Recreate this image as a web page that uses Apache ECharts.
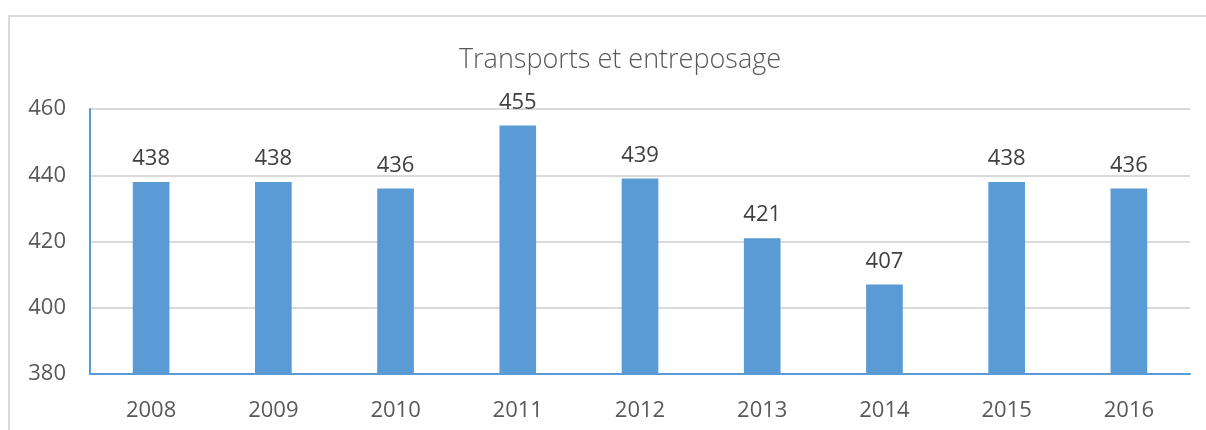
<!DOCTYPE html>
<html><head><meta charset="utf-8">
<script src="https://cdn.jsdelivr.net/npm/echarts@6/dist/echarts.min.js"></script>
<style>html,body{margin:0;padding:0;background:#fff}#c{width:1206px;height:430px}</style>
</head><body><div id="c"></div>
<script>
const categories = ['2008','2009','2010','2011','2012','2013','2014','2015','2016'];
const values = [438, 438, 436, 455, 439, 421, 407, 438, 436];
const chartTitle = 'Transports et entreposage';
const yMin = 380, yMax = 460, yStep = 20;

const font = '"Open Sans", "Noto Sans", sans-serif';
const chart = echarts.init(document.getElementById('c'));
chart.setOption({
  animation: false,
  title: { text: chartTitle, left: 615, top: 42, textAlign: 'center',
    textStyle: { fontFamily: font, fontWeight: 300, fontSize: 27, color: '#595959' } },
  graphic: [{ type: 'rect', shape: { x: 9, y: 16, width: 1400, height: 600 },
    style: { fill: 'none', stroke: '#d9d9d9', lineWidth: 2 }, silent: true }],
  grid: { left: 90, right: 16, top: 109, bottom: 56 },
  xAxis: { type: 'category', data: categories,
    axisLine: { lineStyle: { color: '#5B9BD5', width: 2 } },
    axisTick: { show: false },
    axisLabel: { fontFamily: font, fontSize: 22, color: '#595959', margin: 26 } },
  yAxis: { type: 'value', min: yMin, max: yMax, interval: yStep,
    axisLine: { show: true, lineStyle: { color: '#5B9BD5', width: 2 } },
    splitLine: { lineStyle: { color: '#d9d9d9', width: 2 } },
    axisLabel: { fontFamily: font, fontSize: 22, color: '#595959', margin: 24 } },
  series: [{ type: 'bar', data: values, barWidth: '30%',
    itemStyle: { color: '#5B9BD5' },
    label: { show: true, position: 'top', distance: 12, fontFamily: font, fontSize: 22, color: '#404040' } }]
});
</script></body></html>
